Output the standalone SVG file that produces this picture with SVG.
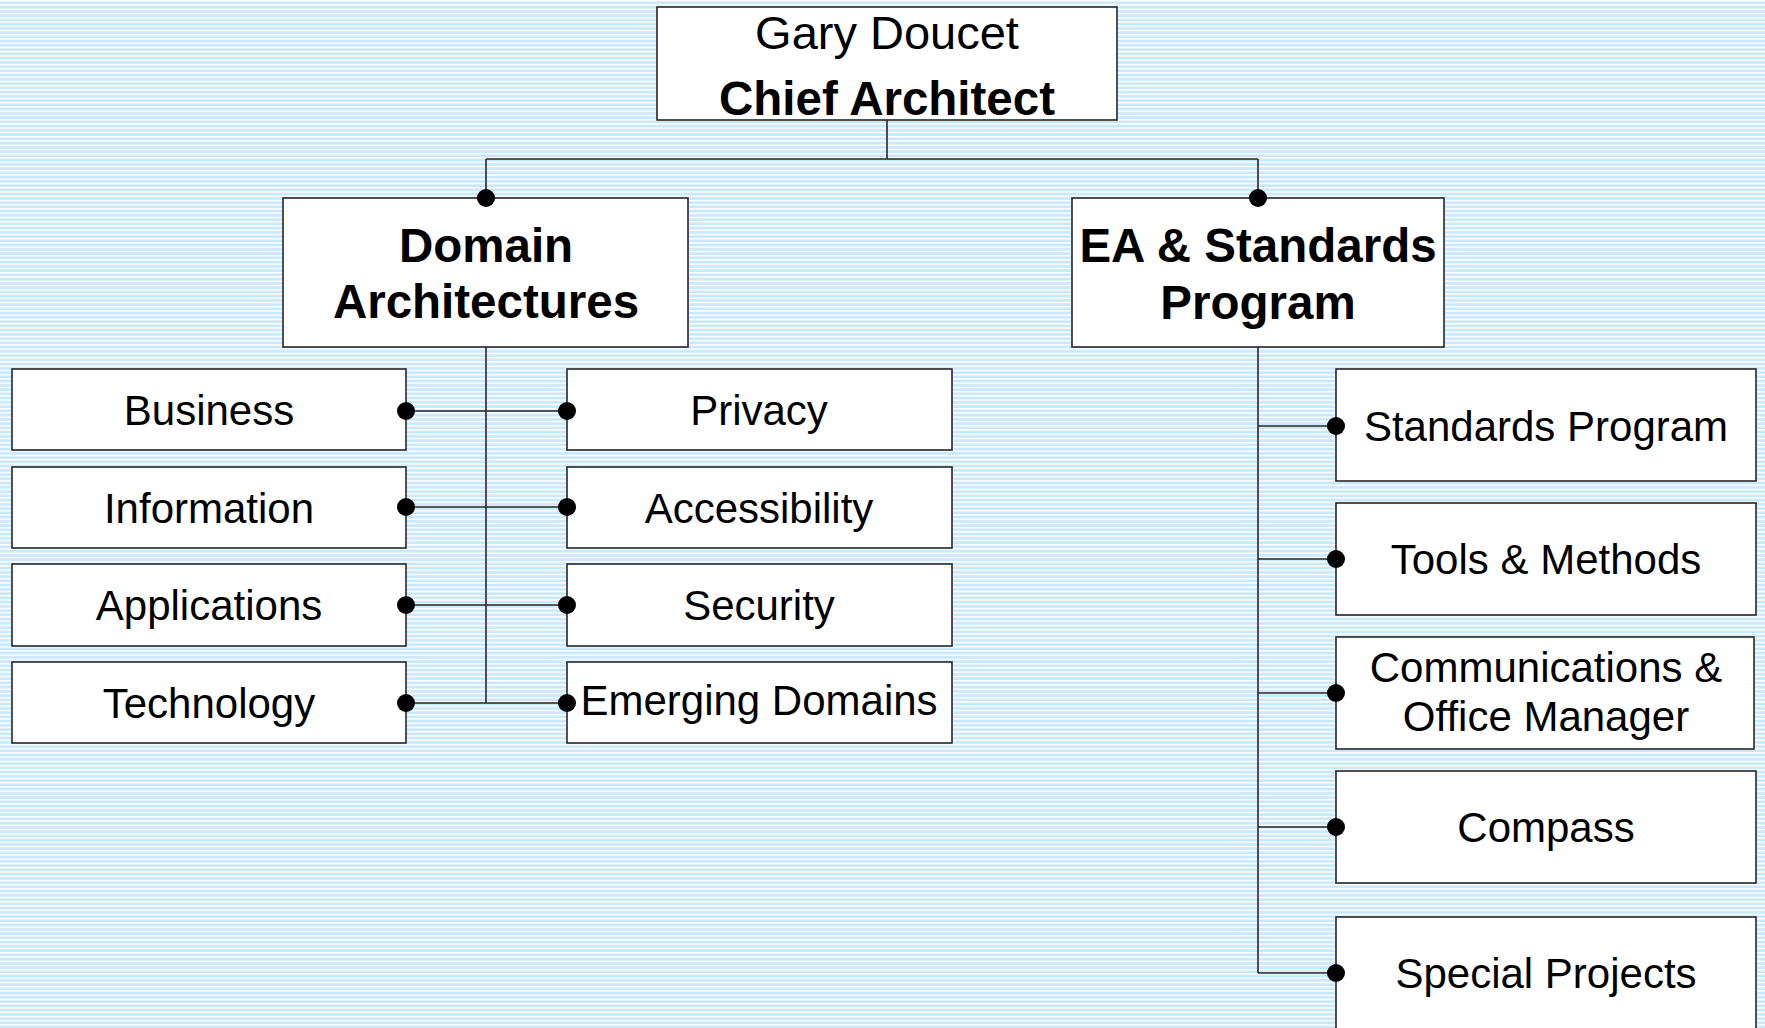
<svg xmlns="http://www.w3.org/2000/svg" width="1765" height="1028" viewBox="0 0 1765 1028">
  <defs>
    <pattern id="stripes" patternUnits="userSpaceOnUse" width="16" height="4.25">
      <rect width="16" height="4.25" fill="#cbe9fd"/>
      <rect y="0" width="16" height="1.4" fill="#ffffff"/>
    </pattern>
    <style>
      .box { fill: #ffffff; stroke: #262626; stroke-width: 1.6; }
      .wire { stroke: #262626; stroke-width: 1.6; fill: none; }
      .dot { fill: #000000; }
      text { font-family: "Liberation Sans", Arial, sans-serif; fill: #000000; text-anchor: middle; }
      .lbl { font-size: 42px; }
      .head { font-size: 47.5px; font-weight: bold; }
      .name { font-size: 47px; }
    </style>
  </defs>

  <rect width="1765" height="1028" fill="url(#stripes)"/>

  <!-- connectors -->
  <g id="connectors">
    <path class="wire" d="M887 120 V159 M486 159 H1258 M486 159 V198 M1258 159 V198"/>
    <path class="wire" d="M486 347 V703 M406 411 H567 M406 507 H567 M406 605 H567 M406 703 H567"/>
    <path class="wire" d="M1258 347 V973 M1258 426 H1336 M1258 559 H1336 M1258 693 H1336 M1258 827 H1336 M1258 973 H1336"/>
  </g>

  <g id="chief">
    <rect class="box" x="657" y="7" width="460" height="113"/>
    <text class="name" x="887" y="49">Gary Doucet</text>
    <text class="head" x="887" y="115">Chief Architect</text>
  </g>

  <g id="domain">
    <rect class="box" x="283" y="198" width="405" height="149"/>
    <text class="head" x="486" y="262">Domain</text>
    <text class="head" x="486" y="318">Architectures</text>
  </g>

  <g id="ea-standards">
    <rect class="box" x="1072" y="198" width="372" height="149"/>
    <text class="head" x="1258" y="262">EA &amp; Standards</text>
    <text class="head" x="1258" y="319">Program</text>
  </g>

  <g id="business">
    <rect class="box" x="12" y="369" width="394" height="81"/>
    <text class="lbl" x="209" y="425">Business</text>
  </g>
  <g id="information">
    <rect class="box" x="12" y="467" width="394" height="81"/>
    <text class="lbl" x="209" y="523">Information</text>
  </g>
  <g id="applications">
    <rect class="box" x="12" y="564" width="394" height="82"/>
    <text class="lbl" x="209" y="620">Applications</text>
  </g>
  <g id="technology">
    <rect class="box" x="12" y="662" width="394" height="81"/>
    <text class="lbl" x="209" y="718">Technology</text>
  </g>

  <g id="privacy">
    <rect class="box" x="567" y="369" width="385" height="81"/>
    <text class="lbl" x="759" y="425">Privacy</text>
  </g>
  <g id="accessibility">
    <rect class="box" x="567" y="467" width="385" height="81"/>
    <text class="lbl" x="759" y="523">Accessibility</text>
  </g>
  <g id="security">
    <rect class="box" x="567" y="564" width="385" height="82"/>
    <text class="lbl" x="759" y="620">Security</text>
  </g>
  <g id="emerging">
    <rect class="box" x="567" y="662" width="385" height="81"/>
    <text class="lbl" x="759" y="715">Emerging Domains</text>
  </g>

  <g id="standards-program">
    <rect class="box" x="1336" y="369" width="420" height="112"/>
    <text class="lbl" x="1546" y="441">Standards Program</text>
  </g>
  <g id="tools-methods">
    <rect class="box" x="1336" y="503" width="420" height="112"/>
    <text class="lbl" x="1546" y="574">Tools &amp; Methods</text>
  </g>
  <g id="communications">
    <rect class="box" x="1336" y="637" width="418" height="112"/>
    <text class="lbl" x="1546" y="682">Communications &amp;</text>
    <text class="lbl" x="1546" y="731">Office Manager</text>
  </g>
  <g id="compass">
    <rect class="box" x="1336" y="771" width="420" height="112"/>
    <text class="lbl" x="1546" y="842">Compass</text>
  </g>
  <g id="special-projects">
    <rect class="box" x="1336" y="917" width="420" height="118"/>
    <text class="lbl" x="1546" y="988">Special Projects</text>
  </g>

  <!-- junction dots -->
  <g id="dots">
    <circle class="dot" cx="486" cy="198" r="9"/>
    <circle class="dot" cx="1258" cy="198" r="9"/>
    <circle class="dot" cx="406" cy="411" r="9"/>
    <circle class="dot" cx="406" cy="507" r="9"/>
    <circle class="dot" cx="406" cy="605" r="9"/>
    <circle class="dot" cx="406" cy="703" r="9"/>
    <circle class="dot" cx="567" cy="411" r="9"/>
    <circle class="dot" cx="567" cy="507" r="9"/>
    <circle class="dot" cx="567" cy="605" r="9"/>
    <circle class="dot" cx="567" cy="703" r="9"/>
    <circle class="dot" cx="1336" cy="426" r="9"/>
    <circle class="dot" cx="1336" cy="559" r="9"/>
    <circle class="dot" cx="1336" cy="693" r="9"/>
    <circle class="dot" cx="1336" cy="827" r="9"/>
    <circle class="dot" cx="1336" cy="973" r="9"/>
  </g>
</svg>
